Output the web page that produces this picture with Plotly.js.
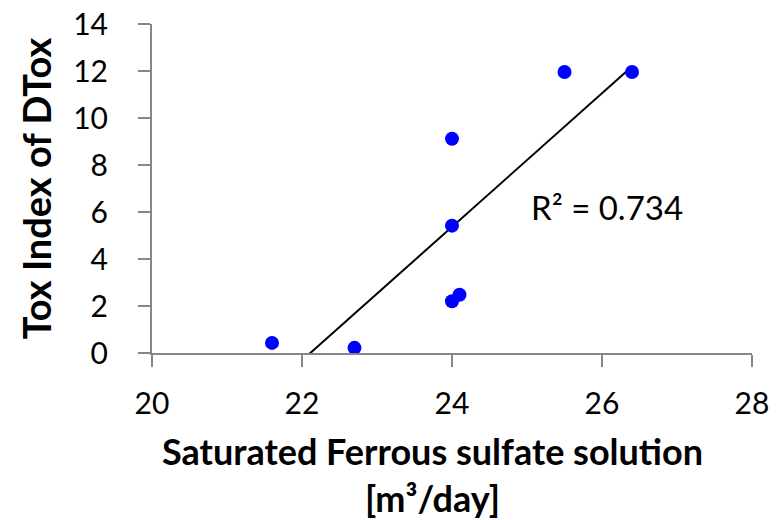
<!DOCTYPE html>
<html>
<head>
<meta charset="utf-8">
<script src="https://cdn.plot.ly/plotly-3.0.1.min.js"></script>
<style>html,body{margin:0;padding:0;background:#fff;}#chart{width:780px;height:520px;}</style>
</head>
<body>
<div id="chart"></div>
<script>
// Data
const flowRate = [21.6, 22.7, 24.0, 24.1, 24.0, 24.0, 25.5, 26.4];   // Saturated ferrous sulfate solution [m3/day]
const toxIndex = [0.43, 0.22, 2.2, 2.48, 5.42, 9.12, 11.96, 11.96];  // Tox Index of DTox
const rSquaredLabel = "R² = 0.734";
const xTicks = [20, 22, 24, 26, 28];
const yTicks = [0, 2, 4, 6, 8, 10, 12, 14];

// Least-squares linear trendline (as Excel draws it, from min x to max x)
const n = flowRate.length;
const mx = flowRate.reduce((a, b) => a + b, 0) / n;
const my = toxIndex.reduce((a, b) => a + b, 0) / n;
let sxy = 0, sxx = 0;
for (let i = 0; i < n; i++) { sxy += (flowRate[i] - mx) * (toxIndex[i] - my); sxx += (flowRate[i] - mx) ** 2; }
const slope = sxy / sxx, intercept = my - slope * mx;
const xMin = Math.min(...flowRate), xMax = Math.max(...flowRate);
const trendX = [xMin, xMax];
const trendY = trendX.map(x => slope * x + intercept);

const font = "Lato, 'Open Sans', sans-serif";
const axisColor = "#868686";

const traces = [
  {
    x: trendX, y: trendY, mode: "lines", type: "scatter",
    line: {color: "#000000", width: 2}, hoverinfo: "skip", showlegend: false
  },
  {
    x: flowRate, y: toxIndex, mode: "markers", type: "scatter",
    marker: {color: "#0000FF", size: 14}, showlegend: false, cliponaxis: false
  }
];

const layout = {
  width: 780, height: 520,
  margin: {l: 152, r: 28, t: 24, b: 167},
  paper_bgcolor: "#ffffff", plot_bgcolor: "#ffffff",
  font: {family: font, color: "#000000"},
  showlegend: false,
  xaxis: {
    range: [20, 28], tickvals: xTicks, ticktext: xTicks.map(String),
    showgrid: false, zeroline: false,
    showline: true, linecolor: axisColor, linewidth: 2,
    ticks: "outside", ticklen: 12, tickwidth: 2, tickcolor: axisColor,
    ticklabelstandoff: 11,
    tickfont: {family: font, size: 30, color: "#000000"}
  },
  yaxis: {
    range: [0, 14], tickvals: yTicks, ticktext: yTicks.map(String),
    showgrid: false, zeroline: false,
    showline: true, linecolor: axisColor, linewidth: 2,
    ticks: "outside", ticklen: 12, tickwidth: 2, tickcolor: axisColor,
    ticklabelstandoff: 24,
    tickfont: {family: font, size: 30, color: "#000000"},
    title: {text: "<b>Tox Index of DTox</b>", font: {family: font, size: 38, color: "#000000"}, standoff: 10}
  },
  annotations: [
    {
      xref: "x", yref: "y", x: 25.02, y: 6.2, xanchor: "left", yanchor: "middle",
      text: rSquaredLabel, showarrow: false,
      font: {family: font, size: 33, color: "#000000"}
    },
    {
      xref: "paper", yref: "paper", x: (432 - 152) / 600, y: -0.225, xanchor: "center", yanchor: "top",
      text: "<b>Saturated Ferrous sulfate solution</b><br><b>[m³/day]</b>", showarrow: false,
      font: {family: font, size: 36, color: "#000000"}
    }
  ]
};

Plotly.newPlot("chart", traces, layout, {displayModeBar: false, staticPlot: true});
</script>
</body>
</html>
